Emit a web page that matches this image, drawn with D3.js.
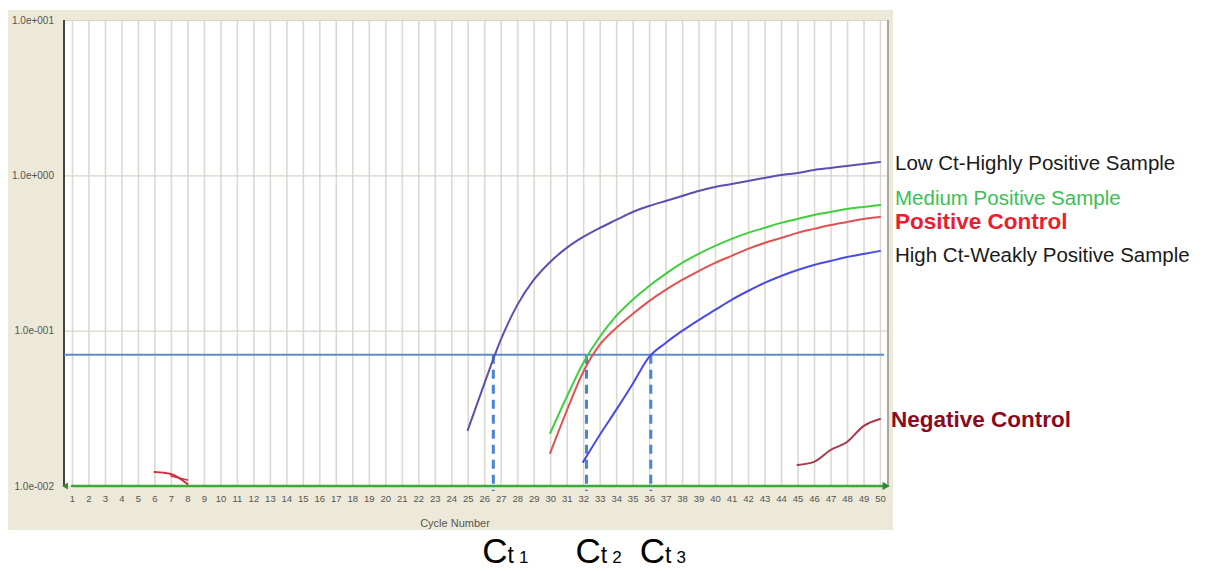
<!DOCTYPE html>
<html><head><meta charset="utf-8">
<script src="https://cdn.jsdelivr.net/npm/d3@7/dist/d3.min.js"></script>
<style>
html,body{margin:0;padding:0;background:#fff;}
svg{display:block;font-family:Arial,"Liberation Sans",sans-serif;}
</style></head>
<body>
<svg id="chart" width="1207" height="571"></svg>
<script>
// ---- data ----
const cycles = d3.range(1, 51);
const yTickValues = [0.01, 0.1, 1, 10];
const yTickLabels = ["1.0e-002", "1.0e-001", "1.0e+000", "1.0e+001"];
const threshold = 0.07;
const ctValues = [26.55, 32.2, 36.1];
const ctNames = ["1", "2", "3"];

const lowCtCycles = d3.range(25, 51);
const lowCtValues = [0.0229, 0.0454, 0.0871, 0.146, 0.212, 0.277, 0.341, 0.401, 0.458, 0.516, 0.581, 0.635, 0.684, 0.737, 0.793, 0.842, 0.880, 0.920, 0.962, 1.006, 1.036, 1.083, 1.116, 1.150, 1.184, 1.220];

const mediumCycles = d3.range(30, 51);
const mediumValues = [0.0219, 0.0374, 0.0619, 0.0911, 0.1244, 0.158, 0.194, 0.232, 0.273, 0.312, 0.351, 0.390, 0.426, 0.459, 0.494, 0.524, 0.556, 0.581, 0.608, 0.626, 0.645];

const posCtrlCycles = d3.range(30, 51);
const posCtrlValues = [0.0163, 0.0304, 0.0542, 0.0809, 0.1041, 0.128, 0.155, 0.183, 0.212, 0.242, 0.273, 0.303, 0.336, 0.367, 0.395, 0.426, 0.452, 0.479, 0.501, 0.524, 0.540];

const weakCycles = d3.range(32, 51);
const weakValues = [0.0143, 0.0213, 0.0309, 0.0454, 0.0677, 0.0833, 0.0996, 0.117, 0.136, 0.158, 0.180, 0.203, 0.225, 0.246, 0.265, 0.281, 0.298, 0.312, 0.326];

const negCycles = [45, 46, 47, 48, 49, 50];
const negValues = [0.01365, 0.0143, 0.01705, 0.0192, 0.0243, 0.0270];

const negEarlyCyclesA = [6, 7, 8];
const negEarlyValuesA = [0.01231, 0.01195, 0.01030];
const negEarlyCyclesB = [7, 8];
const negEarlyValuesB = [0.0116, 0.01093];

const baselineCycles = [1, 50.3];
const baselineValues = [0.01, 0.01];

const labelTexts = ["Low Ct-Highly Positive Sample", "Medium Positive Sample", "Positive Control", "High Ct-Weakly Positive Sample", "Negative Control"];
const labelValues = [1.202, 0.715, 0.509, 0.307, 0.0270];
const labelColors = ["#1a1a1a", "#3bbf55", "#ee1c2e", "#1a1a1a", "#8b0a1e"];
const labelBold = [false, false, true, false, true];

// ---- layout ----
const svg = d3.select("#chart");
const plot = {left: 64, right: 888, top: 20, bottom: 486};
const x = d3.scaleLinear().domain([1, 50]).range([72, 880]);
const y = d3.scaleLog().domain([0.01, 10]).range([plot.bottom, plot.top]);

// panel background
svg.append("rect").attr("x", 8).attr("y", 10).attr("width", 885).attr("height", 520).attr("fill", "#ece9d8");
svg.append("rect").attr("x", plot.left).attr("y", plot.top).attr("width", plot.right - plot.left).attr("height", plot.bottom - plot.top).attr("fill", "#ffffff");

// vertical grid
const gx = svg.append("g").attr("transform", `translate(0,${plot.bottom})`)
  .call(d3.axisBottom(x).tickValues(cycles).tickSize(-(plot.bottom - plot.top)).tickFormat(""));
gx.select(".domain").remove();
gx.selectAll(".tick line").attr("stroke", "#dcd9d0").attr("stroke-width", 1.6);

// horizontal grid
const gy = svg.append("g").attr("transform", `translate(${plot.left},0)`)
  .call(d3.axisRight(y).tickValues(yTickValues.slice(1)).tickSize(plot.right - plot.left).tickFormat(""));
gy.select(".domain").remove();
gy.selectAll(".tick line").attr("stroke", "#d6d4cc").attr("stroke-width", 1.2);

// frame: right grey edge, left dark axis
svg.append("line").attr("x1", plot.right).attr("x2", plot.right).attr("y1", plot.top).attr("y2", plot.bottom + 1).attr("stroke", "#a8a8a8").attr("stroke-width", 2);
svg.append("line").attr("x1", plot.left).attr("x2", plot.left).attr("y1", plot.top).attr("y2", plot.bottom).attr("stroke", "#444").attr("stroke-width", 2);

// tick labels
const xl = svg.append("g").attr("transform", `translate(0,${plot.bottom + 9})`)
  .call(d3.axisBottom(x).tickValues(cycles).tickSize(0).tickPadding(0).tickFormat(d3.format("d")));
xl.select(".domain").remove();
xl.selectAll("text").attr("font-size", 9.5).attr("fill", "#555").attr("font-family", "Arial, 'Liberation Sans', sans-serif");

const yl = svg.append("g").attr("transform", `translate(${plot.left - 10},0)`)
  .call(d3.axisLeft(y).tickValues(yTickValues).tickSize(0).tickPadding(0).tickFormat((d, i) => yTickLabels[i]));
yl.select(".domain").remove();
yl.selectAll("text").attr("font-size", 10).attr("fill", "#555").attr("font-family", "Arial, 'Liberation Sans', sans-serif");

svg.append("text").attr("x", 455).attr("y", 527).attr("text-anchor", "middle").attr("font-size", 11).attr("fill", "#555").text("Cycle Number");

// threshold
svg.append("line").attr("x1", plot.left).attr("x2", plot.right - 4)
  .attr("y1", y(threshold)).attr("y2", y(threshold))
  .attr("stroke", "#5b8ccc").attr("stroke-width", 2);

// Ct dashed lines
ctValues.forEach(c => {
  svg.append("line").attr("x1", x(c)).attr("x2", x(c))
    .attr("y1", y(threshold)).attr("y2", plot.bottom + 5)
    .attr("stroke", "#4a84d2").attr("stroke-width", 3).attr("stroke-dasharray", "9,6");
});

const line = d3.line().curve(d3.curveMonotoneX).x(d => x(d[0])).y(d => y(d[1]));
function series(cs, vs, color, w) {
  svg.append("path").datum(cs.map((c, i) => [c, vs[i]]))
    .attr("d", line).attr("fill", "none").attr("stroke", color).attr("stroke-width", w || 2)
    .attr("stroke-linejoin", "round").attr("stroke-linecap", "round");
}

// baseline (green) with arrows
series(baselineCycles, baselineValues, "#3aa83a", 2.5);
svg.append("path").attr("d", d3.symbol(d3.symbolTriangle, 30)()).attr("fill", "#2f8a2f")
  .attr("transform", `translate(${x(50.3)},${y(0.01)}) rotate(90)`);
svg.append("path").attr("d", d3.symbol(d3.symbolTriangle, 20)()).attr("fill", "#2f8a2f")
  .attr("transform", `translate(${plot.left + 2},${y(0.01)}) rotate(-90)`);

series(negEarlyCyclesA, negEarlyValuesA, "#d0303c", 2);
series(negEarlyCyclesB, negEarlyValuesB, "#d0303c", 1.6);
series(lowCtCycles, lowCtValues, "#5a50b2", 2);
series(mediumCycles, mediumValues, "#3fcf3f", 2);
series(posCtrlCycles, posCtrlValues, "#e05252", 2);
series(weakCycles, weakValues, "#4a4ae6", 2);
series(negCycles, negValues, "#a8384a", 2);

// legend labels
labelTexts.forEach((t, i) => {
  svg.append("text").attr("x", t === "Negative Control" ? 891 : 895).attr("y", y(labelValues[i]))
    .attr("dy", "0.35em").attr("font-size", labelBold[i] ? 22.5 : 20.5)
    .attr("font-weight", labelBold[i] ? "bold" : "normal")
    .attr("fill", labelColors[i]).text(t);
});

// Ct labels
ctValues.forEach((c, i) => {
  const t = svg.append("text").attr("x", x(c) - 11).attr("y", 563).attr("fill", "#000");
  t.append("tspan").attr("font-size", 35).text("C");
  t.append("tspan").attr("font-size", 23).text("t");
  t.append("tspan").attr("font-size", 17).attr("dx", 5).text(ctNames[i]);
});
</script>
</body></html>
